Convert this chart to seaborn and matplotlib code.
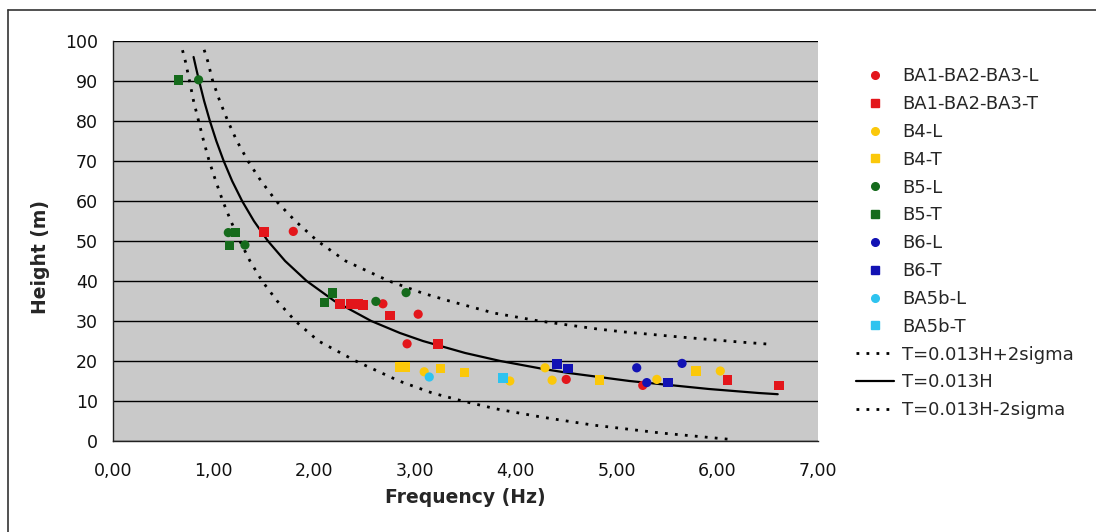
import numpy as np
import pandas as pd
import matplotlib
matplotlib.use("Agg")
import matplotlib.pyplot as plt
from matplotlib.ticker import FuncFormatter, MultipleLocator
from matplotlib.lines import Line2D
import seaborn as sns

# measured points (frequency Hz, height m)
ba123_l_f = [1.79, 2.68, 3.03, 2.92, 4.50, 5.26]
ba123_l_h = [52.4, 34.3, 31.7, 24.3, 15.4, 13.9]
ba123_t_f = [1.50, 2.255, 2.365, 2.43, 2.48, 2.75, 3.23, 6.10, 6.61]
ba123_t_h = [52.2, 34.2, 34.3, 34.3, 34.0, 31.4, 24.2, 15.3, 13.9]
b4_l_f = [3.09, 3.94, 4.29, 4.36, 5.40, 6.03]
b4_l_h = [17.3, 15.0, 18.3, 15.2, 15.4, 17.5]
b4_t_f = [2.85, 2.90, 3.25, 3.49, 4.83, 5.79]
b4_t_h = [18.5, 18.5, 18.1, 17.1, 15.2, 17.5]
b5_l_f = [0.85, 1.145, 1.31, 2.61, 2.91]
b5_l_h = [90.3, 52.1, 49.0, 34.9, 37.1]
b5_t_f = [0.65, 1.215, 1.155, 2.10, 2.18]
b5_t_h = [90.3, 52.1, 48.9, 34.6, 37.0]
b6_l_f = [5.20, 5.30, 5.65]
b6_l_h = [18.3, 14.6, 19.4]
b6_t_f = [4.41, 4.52, 5.51]
b6_t_h = [19.2, 18.1, 14.6]
ba5b_l_f = [3.14]
ba5b_l_h = [16.0]
ba5b_t_f = [3.87]
ba5b_t_h = [15.8]

# curves
plus_f = [0.69, 0.718, 0.76, 0.80, 0.85, 0.90, 0.955, 1.02, 1.09, 1.17, 1.26, 1.36,
          1.48, 1.63, 1.81, 2.04, 2.41, 2.84, 3.17, 3.47, 3.81, 4.25, 4.76, 5.44, 6.13]
plus_h = [97.7, 95, 90, 85, 80, 75, 70, 65, 60, 55, 50, 45,
          40, 35, 30, 25, 20, 15, 12, 10, 8, 6, 4, 2, 0.4]
mid_f = [0.80, 0.827, 0.855, 0.905, 0.962, 1.026, 1.099, 1.183, 1.282, 1.399, 1.538,
         1.709, 1.923, 2.198, 2.564, 2.849, 3.077, 3.497, 3.846, 4.274, 4.525, 5.128,
         5.917, 6.41, 6.60]
mid_h = [96, 93, 90, 85, 80, 75, 70, 65, 60, 55, 50,
         45, 40, 35, 30, 27, 25, 22, 20, 18, 17, 15,
         13, 12, 11.7]
minus_f = [0.905, 0.94, 0.99, 1.06, 1.14, 1.23, 1.34, 1.47, 1.62, 1.81, 2.03, 2.31,
           2.74, 3.07, 3.34, 3.78, 4.23, 4.81, 5.06, 5.63, 6.22, 6.52]
minus_h = [97.8, 95, 90, 85, 80, 75, 70, 65, 60, 55, 50, 45,
           40, 37, 35, 32, 30, 28, 27.3, 26.0, 24.75, 24.2]

series = [
    ("BA1-BA2-BA3-L", ba123_l_f, ba123_l_h, "#e3161b", "o"),
    ("BA1-BA2-BA3-T", ba123_t_f, ba123_t_h, "#e3161b", "s"),
    ("B4-L", b4_l_f, b4_l_h, "#fbc80a", "o"),
    ("B4-T", b4_t_f, b4_t_h, "#fbc80a", "s"),
    ("B5-L", b5_l_f, b5_l_h, "#156b1c", "o"),
    ("B5-T", b5_t_f, b5_t_h, "#156b1c", "s"),
    ("B6-L", b6_l_f, b6_l_h, "#1212b4", "o"),
    ("B6-T", b6_t_f, b6_t_h, "#1212b4", "s"),
    ("BA5b-L", ba5b_l_f, ba5b_l_h, "#2ec3ef", "o"),
    ("BA5b-T", ba5b_t_f, ba5b_t_h, "#2ec3ef", "s"),
]

sns.set_style("white")
plt.rcParams['font.family'] = ['DejaVu Sans']

fig = plt.figure(figsize=(10.96, 5.32), dpi=100)
ax = fig.add_axes([113 / 1096, 1 - 441 / 532, 705 / 1096, 400 / 532])
ax.set_facecolor("#c9c9c9")

dots = (0, (1, 2.6))
curves = pd.DataFrame({"f": plus_f, "h": plus_h})
sns.lineplot(data=curves, x="f", y="h", ax=ax, sort=False, estimator=None,
             color="black", lw=2.0, linestyle=dots, zorder=2)
curves = pd.DataFrame({"f": mid_f, "h": mid_h})
sns.lineplot(data=curves, x="f", y="h", ax=ax, sort=False, estimator=None,
             color="black", lw=1.6, zorder=2)
curves = pd.DataFrame({"f": minus_f, "h": minus_h})
sns.lineplot(data=curves, x="f", y="h", ax=ax, sort=False, estimator=None,
             color="black", lw=2.0, linestyle=dots, zorder=2)

handles = []
for name, fx, hy, col, mk in series:
    df = pd.DataFrame({"f": fx, "h": hy})
    sns.scatterplot(data=df, x="f", y="h", ax=ax, color=col, marker=mk,
                    s=48 if mk == "s" else 44, edgecolor="none", zorder=3)
    handles.append(Line2D([], [], ls="none", marker=mk, color=col, markersize=5.5))
handles.append(Line2D([], [], color="black", lw=2.0, linestyle=dots))
handles.append(Line2D([], [], color="black", lw=1.6))
handles.append(Line2D([], [], color="black", lw=2.0, linestyle=dots))
labels = [s[0] for s in series] + ["T=0.013H+2sigma", "T=0.013H", "T=0.013H-2sigma"]

ax.set_xlim(0, 7)
ax.set_ylim(0, 100)
ax.xaxis.set_major_locator(MultipleLocator(1))
ax.yaxis.set_major_locator(MultipleLocator(10))
ax.xaxis.set_major_formatter(FuncFormatter(lambda v, p: f"{v:.2f}".replace(".", ",")))
ax.yaxis.grid(True, color="black", lw=1.0)
ax.xaxis.grid(False)
ax.set_axisbelow(True)
for side in ["top", "right"]:
    ax.spines[side].set_visible(False)
for side in ["left", "bottom"]:
    ax.spines[side].set_color("#222222")
    ax.spines[side].set_linewidth(1.0)
ax.tick_params(axis="both", direction="out", length=5, width=1, color="#222222",
               labelsize=12.5, labelcolor="#111111")
ax.tick_params(axis="x", pad=10)
ax.tick_params(axis="y", pad=6)

ax.set_xlabel("Frequency (Hz)", fontsize=13.5, fontweight="bold")
ax.set_ylabel("Height (m)", fontsize=13.5, fontweight="bold")
ax.xaxis.set_label_coords(0.5, -0.1175)
ax.yaxis.set_label_coords(-0.090, 0.46)

ax.legend(handles, labels, loc="upper left", bbox_to_anchor=(840 / 1096, 1 - 51 / 532),
          bbox_transform=fig.transFigure, frameon=False, fontsize=13,
          handlelength=2.1, handletextpad=0.45, labelspacing=0.545)

# outer frame (left and top edges visible)
fig.add_artist(Line2D([8 / 1096, 8 / 1096], [0, 1 - 10 / 532], color="#333333", lw=1.2))
fig.add_artist(Line2D([8 / 1096, 1], [1 - 10 / 532, 1 - 10 / 532], color="#333333", lw=1.2))

fig.savefig("out.png", dpi=100)
